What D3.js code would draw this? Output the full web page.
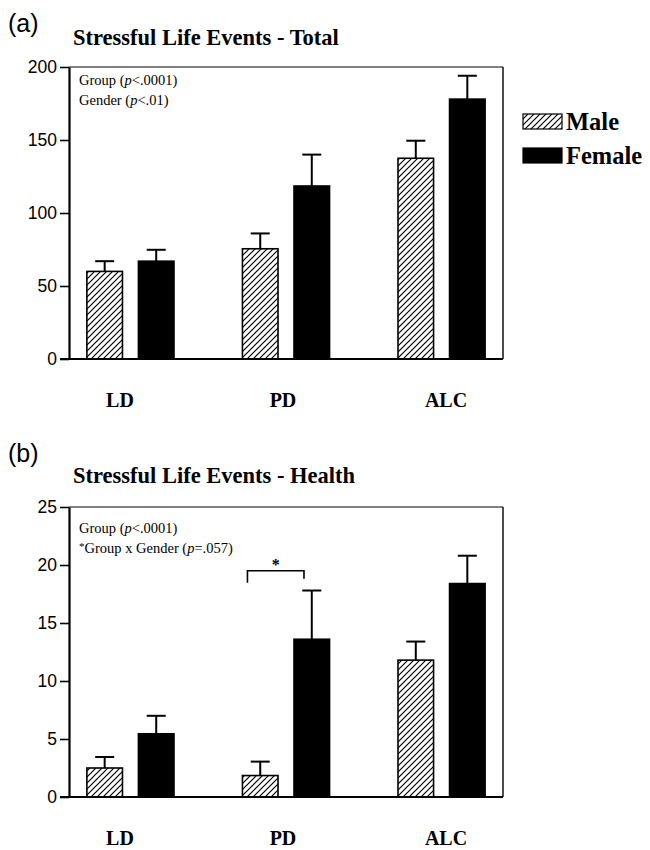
<!DOCTYPE html>
<html><head><meta charset="utf-8">
<script src="https://cdn.jsdelivr.net/npm/d3@7"></script>
<style>body{margin:0;background:#fff}</style>
</head><body>
<script>
// ---- data ----
const groups = ["LD", "PD", "ALC"];
const genders = ["Male", "Female"];

const totalMale = [60, 75.5, 137.5];
const totalMaleSE = [7, 10.5, 12];
const totalFemale = [67, 118.5, 178];
const totalFemaleSE = [7.8, 21.5, 16];
const totalTicks = [0, 50, 100, 150, 200];

const healthMale = [2.5, 1.85, 11.8];
const healthMaleSE = [0.95, 1.2, 1.6];
const healthFemale = [5.45, 13.6, 18.4];
const healthFemaleSE = [1.55, 4.2, 2.4];
const healthTicks = [0, 5, 10, 15, 20, 25];
const healthBracketY = 19.5;

// ---- drawing ----
const W = 650, H = 850;
const svg = d3.select("body").append("svg").attr("width", W).attr("height", H)
  .style("font-family", "'Liberation Serif','Times New Roman',serif");

const defs = svg.append("defs");
const pat = defs.append("pattern").attr("id", "hatch").attr("patternUnits", "userSpaceOnUse")
  .attr("width", 6).attr("height", 6);
pat.append("rect").attr("width", 6).attr("height", 6).attr("fill", "#fff");
pat.append("path").attr("d", "M0,6L6,0M-1.5,1.5L1.5,-1.5M4.5,7.5L7.5,4.5")
  .attr("stroke", "#000").attr("stroke-width", 1.2);

const fills = {Male: "url(#hatch)", Female: "#000"};

const x = d3.scaleBand().domain(groups).range([69, 503]).paddingInner(0.44).paddingOuter(0.115);
const xs = d3.scaleBand().domain(genders).range([0, x.bandwidth()]).paddingInner(0.31);
const xl = d3.scalePoint().domain(groups).range([120, 446]);

function panel(opt) {
  const g = svg.append("g");
  const y = d3.scaleLinear().domain([0, opt.ticks[opt.ticks.length - 1]]).range(opt.yr);
  const [yb, yt] = opt.yr;
  // label and title
  g.append("text").attr("x", 8).attr("y", opt.labelY).text(opt.label)
    .style("font-family", "'Liberation Sans',Arial,sans-serif").style("font-size", "25px");
  g.append("text").attr("x", 73).attr("y", opt.titleY).text(opt.title)
    .style("font-weight", "bold").style("font-size", "22.5px");
  // box top/right
  g.append("line").attr("x1", 69).attr("x2", 503).attr("y1", yt).attr("y2", yt)
    .attr("stroke", "#000").attr("stroke-width", 1.2);
  g.append("line").attr("x1", 503).attr("x2", 503).attr("y1", yt).attr("y2", yb)
    .attr("stroke", "#000").attr("stroke-width", 1.4);
  // bars
  const rows = [];
  groups.forEach((grp, i) => {
    rows.push({grp, gen: "Male", v: opt.male[i], se: opt.maleSE[i]});
    rows.push({grp, gen: "Female", v: opt.female[i], se: opt.femaleSE[i]});
  });
  const bx = d => x(d.grp) + xs(d.gen);
  const cx = d => bx(d) + xs.bandwidth() / 2;
  // error bars
  g.selectAll(".eb").data(rows).enter().append("line")
    .attr("x1", cx).attr("x2", cx)
    .attr("y1", d => y(d.v)).attr("y2", d => y(d.v + d.se))
    .attr("stroke", "#000").attr("stroke-width", 2);
  g.selectAll(".cap").data(rows).enter().append("line")
    .attr("x1", d => cx(d) - 9.5).attr("x2", d => cx(d) + 9.5)
    .attr("y1", d => y(d.v + d.se)).attr("y2", d => y(d.v + d.se))
    .attr("stroke", "#000").attr("stroke-width", 2);
  g.selectAll(".bar").data(rows).enter().append("rect")
    .attr("x", bx).attr("width", xs.bandwidth())
    .attr("y", d => y(d.v)).attr("height", d => y(0) - y(d.v))
    .attr("fill", d => fills[d.gen]).attr("stroke", "#000").attr("stroke-width", 1.6);
  // y axis
  const ya = g.append("g").attr("transform", "translate(69,0)")
    .call(d3.axisLeft(y).tickValues(opt.ticks).tickSize(9).tickPadding(3).tickSizeOuter(0));
  ya.select(".domain").attr("stroke-width", 2.2);
  ya.selectAll(".tick line").attr("stroke-width", 1.6);
  ya.selectAll("text").style("font-family", "'Liberation Sans',Arial,sans-serif")
    .style("font-size", "17.5px").attr("fill", "#000");
  // x axis line
  g.append("line").attr("x1", 60).attr("x2", 503).attr("y1", yb).attr("y2", yb)
    .attr("stroke", "#000").attr("stroke-width", 2.2);
  // group labels
  g.selectAll(".glab").data(groups).enter().append("text")
    .attr("x", d => xl(d)).attr("y", yb + opt.labOff).attr("text-anchor", "middle")
    .style("font-weight", "bold").style("font-size", "20px").text(d => d);
  // annotation
  opt.ann(g);
  return {g, y};
}

function line(g, xx, yy, parts) {
  const t = g.append("text").attr("x", xx).attr("y", yy).style("font-size", "14.5px");
  parts.forEach(p => {
    const s = t.append("tspan").text(p.t);
    if (p.i) s.style("font-style", "italic");
    if (p.fs) s.style("font-size", p.fs);
    if (p.dy) s.attr("dy", p.dy);
  });
}

function ann1(g) {
  line(g, 79, 85, [{t: "Group ("}, {t: "p", i: 1}, {t: "<.0001)"}]);
  line(g, 79, 105, [{t: "Gender ("}, {t: "p", i: 1}, {t: "<.01)"}]);
}
function ann2(g) {
  line(g, 79, 533, [{t: "Group ("}, {t: "p", i: 1}, {t: "<.0001)"}]);
  line(g, 79, 553, [{t: "*", fs: "11px", dy: -3}, {t: "Group x Gender (", dy: 3}, {t: "p", i: 1}, {t: "=.057)"}]);
}

panel({label: "(a)", labelY: 32, title: "Stressful Life Events - Total", titleY: 45,
  yr: [359, 67], ticks: totalTicks, male: totalMale, maleSE: totalMaleSE,
  female: totalFemale, femaleSE: totalFemaleSE, labOff: 48, ann: ann1});

const pb = panel({label: "(b)", labelY: 462, title: "Stressful Life Events - Health", titleY: 483,
  yr: [797, 507], ticks: healthTicks, male: healthMale, maleSE: healthMaleSE,
  female: healthFemale, femaleSE: healthFemaleSE, labOff: 48, ann: ann2});

// significance bracket (panel b, PD)
const by = pb.y(healthBracketY);
const bl = x("PD") + 5, br = x("PD") + xs("Female") + 10;
pb.g.append("path").attr("d", `M${bl},${by + 12}V${by}H${br}V${by + 8}`)
  .attr("fill", "none").attr("stroke", "#000").attr("stroke-width", 1.6);
pb.g.append("text").attr("x", (bl + br) / 2).attr("y", by - 1).attr("text-anchor", "middle")
  .style("font-weight", "bold").style("font-size", "16px").text("*");

// legend
const leg = svg.append("g");
genders.forEach((gen, i) => {
  const ly = 114 + i * 34;
  leg.append("rect").attr("x", 523).attr("y", ly).attr("width", 39).attr("height", 15)
    .attr("fill", fills[gen]).attr("stroke", "#000").attr("stroke-width", 1.2);
  leg.append("text").attr("x", 566).attr("y", ly + 16).text(gen)
    .style("font-weight", "bold").style("font-size", "24.5px");
});
</script>
</body></html>
